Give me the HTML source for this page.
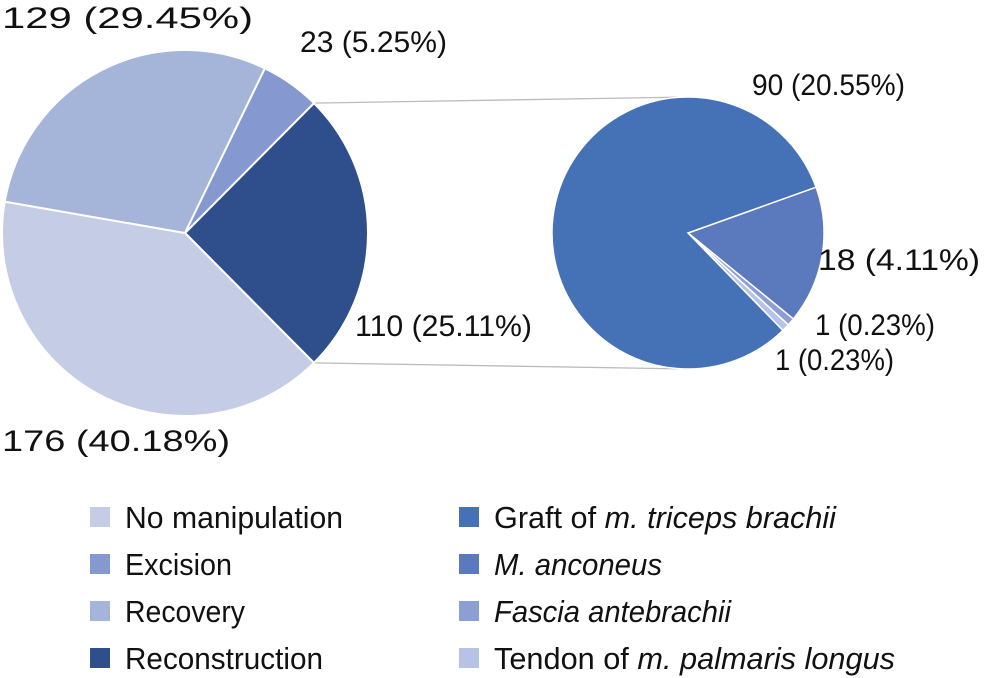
<!DOCTYPE html>
<html><head><meta charset="utf-8"><style>
html,body{margin:0;padding:0;background:#fff}
svg{display:block}
text{font-family:"Liberation Sans Narrow","Liberation Sans",sans-serif;fill:#111}
</style></head><body>
<svg id="chart" width="984" height="678" viewBox="0 0 984 678" xmlns="http://www.w3.org/2000/svg">
<g id="lines"></g><g id="left"></g><g id="right"></g><g id="labels"></g><g id="legend"></g>
</svg>
<script>
const mainCats=["Reconstruction","No manipulation","Recovery","Excision"];
const mainVals=[110,176,129,23];
const mainColors=["#2e4f8c","#c5cce6","#a5b4d9","#8598cf"];
const subCats=["M. anconeus","Fascia antebrachii","Tendon of m. palmaris longus","Graft of m. triceps brachii"];
const subVals=[18,1,1,90];
const subColors=["#5b79bd","#8b9fd5","#b6c2e6","#4571b6"];
const NS="http://www.w3.org/2000/svg";
function mk(tag,attrs,parent){const e=document.createElementNS(NS,tag);for(const k in attrs)e.setAttribute(k,attrs[k]);parent.appendChild(e);return e;}
function pt(cx,cy,r,a){const t=a*Math.PI/180;return [cx+r*Math.cos(t),cy+r*Math.sin(t)];}
function arc(cx,cy,r,a0,a1){const p0=pt(cx,cy,r,a0),p1=pt(cx,cy,r,a1);const large=(a1-a0)>180?1:0;return `M${cx},${cy}L${p0[0]},${p0[1]}A${r},${r} 0 ${large} 1 ${p1[0]},${p1[1]}Z`;}
const L={cx:185,cy:233,r:183}, R={cx:688,cy:233,r:136};
const total=mainVals.reduce((a,b)=>a+b,0);
const recAng=mainVals[0]/total*360;
let a=-recAng/2;
const gL=document.getElementById('left');
mainVals.forEach((v,i)=>{const s=v/total*360;
 const p=mk('path',{d:arc(L.cx,L.cy,L.r,a,a+s),fill:mainColors[i],stroke:'#fff','stroke-width':2},gL);
 
 
 a+=s;});
const gLn=document.getElementById('lines');
const subTotal=subVals.reduce((x,y)=>x+y,0);
let sa=-19.7;
const pA=pt(L.cx,L.cy,L.r,-recAng/2),pB=pt(L.cx,L.cy,L.r,recAng/2);
let l1=mk('line',{x1:pA[0],y1:pA[1],x2:R.cx,y2:R.cy-R.r,stroke:'#bbb','stroke-width':1.3},gLn);

let l2=mk('line',{x1:pB[0],y1:pB[1],x2:R.cx,y2:R.cy+R.r,stroke:'#bbb','stroke-width':1.3},gLn);

const gR=document.getElementById('right');
subVals.forEach((v,i)=>{const s=v/subTotal*360;
 const p=mk('path',{d:arc(R.cx,R.cy,R.r,sa,sa+s),fill:subColors[i],stroke:'#fff','stroke-width':1.5},gR);
 
 
 sa+=s;});
const labels=[["129 (29.45%)",2,28,251],["23 (5.25%)",300,52,147],["110 (25.11%)",355,336,177],["176 (40.18%)",2,451,228],
["90 (20.55%)",752,95,153],["18 (4.11%)",818,270,162],["1 (0.23%)",815,335,120],["1 (0.23%)",775,370,119]];
const gT=document.getElementById('labels');
labels.forEach(l=>{const t=mk('text',{x:l[1],y:l[2],'font-size':30,textLength:l[3],lengthAdjust:'spacingAndGlyphs'},gT);t.textContent=l[0];
 });
const gG=document.getElementById('legend');
const leftLeg=[["No manipulation",1,218],["Excision",3,107],["Recovery",2,120],["Reconstruction",0,198]];
leftLeg.forEach((e,i)=>{const y=507+i*47;
 const r=mk('rect',{x:90,y:y,width:20,height:20,fill:mainColors[e[1]]},gG);
 
 const t=mk('text',{x:125,y:y+21,'font-size':31,textLength:e[2],lengthAdjust:'spacingAndGlyphs'},gG);t.textContent=e[0];
 });
const rightLeg=[["Graft of ","m. triceps brachii",3,342],["","M. anconeus",0,168],["","Fascia antebrachii",1,237],["Tendon of ","m. palmaris longus",2,401]];
rightLeg.forEach((e,i)=>{const y=507+i*47;
 const r=mk('rect',{x:459,y:y,width:20,height:20,fill:subColors[e[2]]},gG);
 
 const t=mk('text',{x:494,y:y+21,'font-size':31,textLength:e[3],lengthAdjust:'spacingAndGlyphs'},gG);
 
 if(e[0]){const s1=mk('tspan',{},t);s1.textContent=e[0];}
 const s2=mk('tspan',{'font-style':'italic'},t);s2.textContent=e[1];});
</script>
</body></html>
